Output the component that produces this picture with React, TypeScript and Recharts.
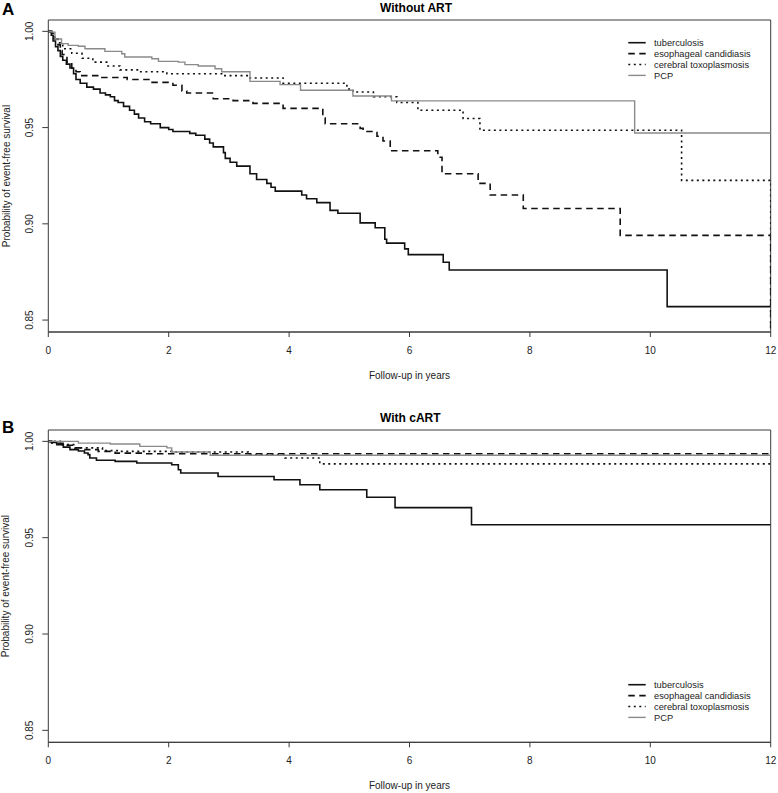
import { LineChart, Line, XAxis, YAxis, ReferenceArea, Legend } from 'recharts';

const font = '"Liberation Sans", Arial, Helvetica, sans-serif';
const axisColor = '#3a3a3a';
const textColor = '#222';

const xTicks = [0, 2, 4, 6, 8, 10, 12];
const yTicks = [0.85, 0.9, 0.95, 1.0];
const yDomain: [number, number] = [0.8438, 1.0059];

const seriesNames = ['tuberculosis', 'esophageal candidiasis', 'cerebral toxoplasmosis', 'PCP'];

// Panel A: without ART
const tbTimesA = [0, 0.05, 0.08, 0.12, 0.16, 0.2, 0.24, 0.3, 0.36, 0.42, 0.46, 0.53, 0.64, 0.75, 0.86, 0.95, 1.03, 1.1, 1.16, 1.25, 1.35, 1.43, 1.5, 1.6, 1.7, 1.86, 2.0, 2.07, 2.35, 2.45, 2.6, 2.68, 2.74, 2.91, 2.94, 3.02, 3.13, 3.35, 3.46, 3.63, 3.7, 3.77, 4.21, 4.29, 4.46, 4.68, 4.81, 5.18, 5.43, 5.59, 5.62, 5.92, 5.98, 6.56, 6.66, 10.28, 12];
const tbSurvA = [1, 0.998, 0.995, 0.992, 0.99, 0.987, 0.985, 0.983, 0.981, 0.978, 0.975, 0.973, 0.971, 0.97, 0.968, 0.967, 0.966, 0.964, 0.963, 0.961, 0.959, 0.957, 0.955, 0.953, 0.952, 0.95, 0.949, 0.948, 0.947, 0.946, 0.944, 0.942, 0.94, 0.937, 0.934, 0.932, 0.93, 0.926, 0.923, 0.921, 0.919, 0.917, 0.915, 0.913, 0.911, 0.907, 0.9055, 0.9005, 0.898, 0.892, 0.89, 0.887, 0.884, 0.88, 0.876, 0.857, 0.857];

const ecTimesA = [0, 0.06, 0.1, 0.16, 0.2, 0.23, 0.31, 0.39, 0.46, 0.53, 0.86, 1.31, 1.69, 2.07, 2.22, 2.3, 2.74, 3.07, 3.4, 3.9, 4.56, 4.6, 5.18, 5.23, 5.46, 5.56, 5.68, 6.47, 6.54, 7.14, 7.34, 7.89, 9.5, 12];
const ecSurvA = [1, 0.998, 0.996, 0.993, 0.99, 0.988, 0.984, 0.981, 0.979, 0.977, 0.976, 0.975, 0.9735, 0.972, 0.969, 0.968, 0.965, 0.964, 0.9626, 0.96, 0.955, 0.952, 0.9496, 0.948, 0.9455, 0.943, 0.938, 0.9346, 0.926, 0.921, 0.915, 0.908, 0.894, 0];

const ctTimesA = [0, 0.06, 0.08, 0.16, 0.24, 0.39, 0.56, 0.74, 0.97, 1.19, 1.52, 1.97, 2.9, 3.35, 3.9, 4.96, 5.06, 5.4, 5.79, 6.14, 6.89, 7.17, 10.52, 12];
const ctSurvA = [1, 0.999, 0.997, 0.994, 0.991, 0.9886, 0.986, 0.984, 0.982, 0.98, 0.979, 0.978, 0.977, 0.9758, 0.973, 0.97, 0.9685, 0.966, 0.963, 0.959, 0.9547, 0.9486, 0.9226, 0];

const pcpTimesA = [0, 0.06, 0.11, 0.22, 0.33, 0.5, 0.61, 0.94, 1.22, 1.27, 1.72, 1.83, 2.16, 2.27, 2.49, 2.77, 2.88, 3.35, 3.85, 4.19, 5.06, 5.7, 9.74, 12];
const pcpSurvA = [1, 0.9996, 0.996, 0.9936, 0.9927, 0.9923, 0.991, 0.9896, 0.9884, 0.9867, 0.9858, 0.9844, 0.984, 0.9827, 0.982, 0.9806, 0.979, 0.974, 0.9723, 0.9694, 0.9664, 0.9639, 0.9472, 0.9472];

// Panel B: with cART
const tbTimesB = [0, 0.05, 0.14, 0.25, 0.36, 0.5, 0.6, 0.66, 0.69, 0.8, 1.11, 1.47, 2.05, 2.16, 2.2, 2.82, 3.75, 4.18, 4.51, 5.29, 5.76, 7.03, 12];
const tbSurvB = [1, 0.9995, 0.9983, 0.997, 0.9957, 0.995, 0.994, 0.9931, 0.9914, 0.9902, 0.9896, 0.9888, 0.9879, 0.9853, 0.9836, 0.9818, 0.9801, 0.9775, 0.9749, 0.971, 0.9656, 0.9567, 0.9567];

const ecTimesB = [0, 0.06, 0.28, 0.44, 0.61, 0.83, 1.11, 1.6, 12];
const ecSurvB = [1, 0.999, 0.998, 0.9966, 0.9957, 0.9948, 0.9939, 0.9936, 0.9936];

const ctTimesB = [0, 0.2, 0.45, 0.9, 1.2, 2.05, 3.32, 3.93, 4.51, 12];
const ctSurvB = [1, 0.9983, 0.9966, 0.9952, 0.9948, 0.9945, 0.9931, 0.9914, 0.9883, 0.9883];

const pcpTimesB = [0, 0.5, 1.03, 1.52, 1.97, 2.05, 2.69, 12];
const pcpSurvB = [1, 0.9991, 0.9986, 0.9974, 0.9966, 0.9945, 0.9928, 0.9928];

const toPoints = (times: number[], surv: number[]) => times.map((t, i) => ({ t, s: surv[i] }));

const curvesA = [
  toPoints(tbTimesA, tbSurvA),
  toPoints(ecTimesA, ecSurvA),
  toPoints(ctTimesA, ctSurvA),
  toPoints(pcpTimesA, pcpSurvA),
];
const curvesB = [
  toPoints(tbTimesB, tbSurvB),
  toPoints(ecTimesB, ecSurvB),
  toPoints(ctTimesB, ctSurvB),
  toPoints(pcpTimesB, pcpSurvB),
];

const lineStyles = [
  { stroke: '#111', width: 1.6, dash: undefined },
  { stroke: '#111', width: 1.6, dash: '6.5 4.5' },
  { stroke: '#111', width: 1.6, dash: '2 3.5' },
  { stroke: '#8a8a8a', width: 1.4, dash: undefined },
];

const YTick = (props: any) => {
  const { y, payload } = props;
  return (
    <text
      x={30}
      y={y}
      dy="0.35em"
      textAnchor="middle"
      transform={`rotate(-90 30 ${y})`}
      fontSize={10}
      fontFamily={font}
      fill={textColor}
    >
      {Number(payload.value).toFixed(2)}
    </text>
  );
};

const renderLegend = () => (
  <svg width={150} height={46} style={{ display: 'block' }}>
    {seriesNames.map((name, i) => {
      const y = 6.7 + i * 10.9;
      const st = lineStyles[i];
      return (
        <g key={name}>
          <line x1={3.3} x2={20.7} y1={y} y2={y} stroke={st.stroke} strokeWidth={st.width} strokeDasharray={st.dash} />
          <text x={29} y={y} dy="0.35em" fontSize={9.3} fontFamily={font} fill={textColor}>
            {name}
          </text>
        </g>
      );
    })}
  </svg>
);

interface PanelProps {
  curves: { t: number; s: number }[][];
  height: number;
  marginTop: number;
  xAxisHeight: number;
  legendTop: number;
}

const Panel = ({ curves, height, marginTop, xAxisHeight, legendTop }: PanelProps) => {
  const plotBottom = height - xAxisHeight;
  const plotMid = (marginTop + plotBottom) / 2;
  return (
    <LineChart width={778} height={height} margin={{ top: marginTop, right: 7.3, bottom: 0, left: 0 }}>
      <XAxis
        dataKey="t"
        type="number"
        domain={[0, 12]}
        ticks={xTicks}
        interval={0}
        allowDataOverflow
        height={xAxisHeight}
        tickSize={5}
        tickMargin={10}
        tickLine={{ stroke: axisColor }}
        axisLine={{ stroke: axisColor }}
        tick={{ fill: textColor, fontSize: 10, fontFamily: font }}
        label={{
          content: () => (
            <text x={409.5} y={plotBottom + 47} textAnchor="middle" fontSize={10} fontFamily={font} fill={textColor}>
              Follow-up in years
            </text>
          ),
        }}
      />
      <YAxis
        type="number"
        domain={yDomain}
        allowDataOverflow
        ticks={yTicks}
        interval={0}
        width={48.3}
        axisLine={false}
        tickSize={6}
        tickLine={{ stroke: axisColor }}
        tick={<YTick />}
        label={{
          content: () => (
            <text
              x={9.5}
              y={plotMid}
              textAnchor="middle"
              transform={`rotate(-90 9.5 ${plotMid})`}
              fontSize={10}
              fontFamily={font}
              fill={textColor}
            >
              Probability of event-free survival
            </text>
          ),
        }}
      />
      {curves.map((data, i) => (
        <Line
          key={seriesNames[i]}
          data={data}
          dataKey="s"
          name={seriesNames[i]}
          type="stepAfter"
          stroke={lineStyles[i].stroke}
          strokeWidth={lineStyles[i].width}
          strokeDasharray={lineStyles[i].dash}
          dot={false}
          activeDot={false}
          isAnimationActive={false}
        />
      ))}
      <ReferenceArea x1={0} x2={12} y1={yDomain[0]} y2={yDomain[1]} fill="none" stroke={axisColor} strokeWidth={1} />
      <Legend
        layout="vertical"
        align="center"
        verticalAlign="middle"
        content={renderLegend}
        wrapperStyle={{ left: 625, top: legendTop, width: 150, height: 46 }}
      />
    </LineChart>
  );
};

export default function App() {
  return (
    <div style={{ position: 'absolute', left: 0, top: 0, width: 778, height: 793, background: '#fff' }}>
      <div style={{ position: 'absolute', left: 0, top: 0 }}>
        <Panel curves={curvesA} height={400} marginTop={20} xAxisHeight={68} legendTop={36} />
      </div>
      <div style={{ position: 'absolute', left: 0, top: 400 }}>
        <Panel curves={curvesB} height={393} marginTop={30} xAxisHeight={50.7} legendTop={277.6} />
      </div>
      <svg
        width={778}
        height={793}
        style={{ position: 'absolute', left: 0, top: 0, pointerEvents: 'none' }}
        fontFamily={font}
        fontWeight="bold"
        fill="#000"
      >
        <text x={2} y={15} fontSize={17}>A</text>
        <text x={380} y={11.5} fontSize={12}>Without ART</text>
        <text x={2} y={433} fontSize={17}>B</text>
        <text x={380} y={421.5} fontSize={12}>With cART</text>
      </svg>
    </div>
  );
}
